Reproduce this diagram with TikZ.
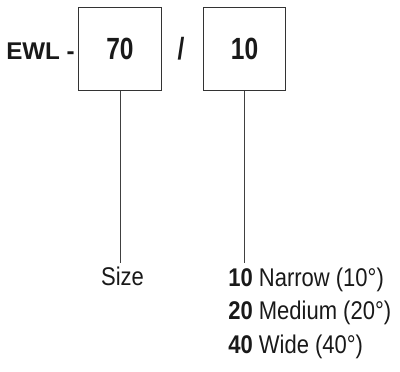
\documentclass[tikz,border=0pt]{standalone}
\usepackage{fontspec}
\setmainfont{Liberation Sans}
\newfontfamily\boxfont[FakeStretch=0.8]{Liberation Sans}
\newfontfamily\legendfont[FakeStretch=0.86]{Liberation Sans}
\usetikzlibrary{positioning}

\begin{document}
\begin{tikzpicture}[x=0.025cm,y=0.025cm,
    codebox/.style={draw=black!80,line width=0.7pt,minimum size=2.05cm,inner sep=0pt,
      text=black!90,font=\boxfont\bfseries\fontsize{21.8}{26}\selectfont},
    connector/.style={draw=black!75,line width=0.7pt},
    legend/.style={inner sep=0pt,text=black!90,font=\legendfont\fontsize{18.2}{21}\selectfont}]
  \useasboundingbox (0,0) rectangle (400,371);
  % code boxes
  \node[inner sep=0pt,anchor=base west,text=black!90,font=\bfseries\fontsize{17.2}{20}\selectfont](ewl) at (6,312){EWL -};
  \node[codebox](size70) at (120,322){70};
  \node[inner sep=0pt,anchor=base,text=black!90,font=\boxfont\bfseries\fontsize{21.8}{26}\selectfont](slash) at (181,312){/};
  \node[codebox](beam10) at (244.5,322){10};
  % leader lines
  \coordinate (end70) at (120,108);
  \coordinate (end10) at (244.5,108);
  \draw[connector] (size70.south) -- (end70);
  \draw[connector] (beam10.south) -- (end10);
  % labels
  \node[legend,anchor=base](sizelbl) at (122.5,86){Size};
  \node[legend,anchor=base west](narrow) at (228,85){\textbf{10} Narrow (10°)};
  \node[legend,anchor=base west](medium) at (228,51.5){\textbf{20} Medium (20°)};
  \node[legend,anchor=base west](wide) at (228,18){\textbf{40} Wide (40°)};
\end{tikzpicture}
\end{document}
